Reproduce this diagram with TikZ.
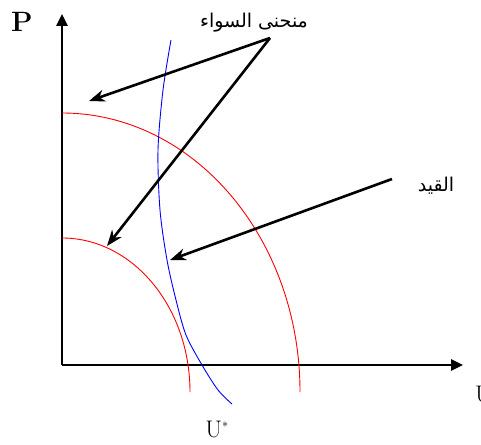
\documentclass[tikz,border=0pt]{standalone}
\usepackage{fontspec}
\newfontfamily\arabicfont[Script=Arabic]{DejaVu Sans}
\TeXXeTstate=1
\usetikzlibrary{arrows.meta}
\begin{document}
\begin{tikzpicture}[
  x=1pt, y=-1pt,
  axis/.style={line width=2.6pt, -{Triangle[length=12pt,width=11pt]}},
  pointer/.style={line width=2.6pt, -{Stealth[length=16pt,width=12pt]}},
  level/.style={red, line width=0.9pt},
  limit/.style={blue, line width=0.9pt},
  arlabel/.style={font=\arabicfont\fontsize{19}{21}\selectfont, inner sep=0pt}
]
\useasboundingbox (0,0) rectangle (481,444);

% axes
\coordinate (origin) at (62,365);
\coordinate (ytop) at (62,14);
\coordinate (xend) at (463,365);
\draw[axis] (origin) -- (ytop);
\draw[axis] (origin) -- (xend);
\node[font=\bfseries\fontsize{28}{30}\selectfont, inner sep=0pt] (plab) at (22,22) {P};
\node[anchor=west, inner sep=0pt, font=\fontsize{24}{26}\selectfont] (ulab) at (475,394) {U};

% indifference curves
\draw[level] (62,113) arc[start angle=90, end angle=0, x radius=238, y radius=-279];
\draw[level] (62,238) arc[start angle=90, end angle=0, x radius=128, y radius=-154];

% constraint
\draw[limit] plot[smooth, tension=0.5] coordinates {(171,40) (163,90) (158,150) (160,210) (167,260) (176,300) (186,335) (202,365) (218,390) (232,404)};
\node[font=\fontsize{24}{26}\selectfont, inner sep=0pt] (ustar) at (217,429) {U$^{\scriptscriptstyle *}$};

% labels and pointers
\node[arlabel] (curvelbl) at (254,23) {\beginR منحنى السواء\endR};
\node[arlabel] (limitlbl) at (436,186) {\beginR القيد\endR};
\coordinate (apex) at (270,38);
\coordinate (upper) at (89,101);
\coordinate (lower) at (107,246);
\coordinate (onlimit) at (170,260);
\draw[pointer] (apex) -- (upper);
\draw[pointer] (apex) -- (lower);
\draw[pointer] (392,179) -- (onlimit);
\end{tikzpicture}
\end{document}
